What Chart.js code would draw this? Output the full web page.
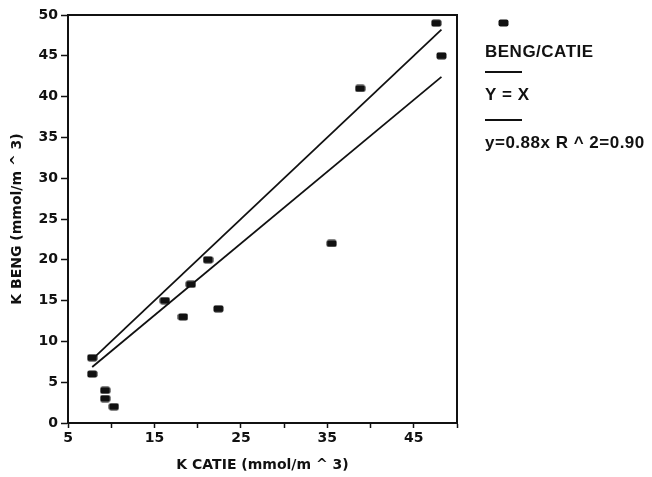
<!DOCTYPE html>
<html>
<head>
<meta charset="utf-8">
<script src="https://cdn.jsdelivr.net/npm/chart.js@4.4.0/dist/chart.umd.min.js"></script>
<style>
  html, body { margin: 0; padding: 0; background: #fff; }
  #wrap { width: 652px; height: 477px; position: relative; }
</style>
</head>
<body>
<div id="wrap"><canvas id="grafico"></canvas></div>
<script>
// Dados: K medido pelo CATIE (x) e pelo BENG (y)
const catieK = [7.8, 7.8, 9.3, 9.3, 10.3, 16.2, 18.3, 19.2, 21.2, 22.4, 35.5, 38.8, 47.6, 48.2];
const bengK = [8, 6, 4, 3, 2, 15, 13, 17, 20, 14, 22, 41, 49, 45];

const xTickLabels = [5, 15, 25, 35, 45];
const yTicks = [0, 5, 10, 15, 20, 25, 30, 35, 40, 45, 50];

// Retas: Y = X e ajuste y = 0.88x (intervalo dos dados)
const fitSlope = 0.88;
const lineX = [7.8, 48.2];

const seriesLabels = ["BENG/CATIE", "Y = X", "y=0.88x R ^ 2=0.90"];

const ink = "#111";

// marcador retangular arredondado
function criarMarcador() {
    const c = document.createElement("canvas");
    c.width = 11; c.height = 8;
    const g = c.getContext("2d");
    g.fillStyle = ink;
    g.beginPath();
    g.roundRect(0.5, 0.5, 10, 7, 2);
    g.fill();
    return c;
}
const marcador = criarMarcador();

// moldura em volta da área do gráfico
const moldura = {
    id: "moldura",
    afterDatasetsDraw(chart) {
        const a = chart.chartArea, ctx = chart.ctx;
        ctx.save();
        ctx.strokeStyle = ink;
        ctx.lineWidth = 2;
        ctx.strokeRect(a.left, a.top, a.right - a.left, a.bottom - a.top);
        ctx.restore();
    }
};

// legenda vertical à direita
const legenda = {
    id: "legenda",
    afterDraw(chart) {
        const ctx = chart.ctx;
        const x0 = 485;
        let y = 23;
        ctx.save();
        ctx.fillStyle = ink;
        ctx.strokeStyle = ink;
        ctx.font = "bold 17px 'Liberation Sans'";
        ctx.letterSpacing = "0.5px";
        ctx.textBaseline = "middle";
        chart.data.datasets.forEach((ds, i) => {
            if (i === 0) {
                ctx.drawImage(marcador, 498, y - 4);
            } else {
                ctx.lineWidth = 1.8;
                ctx.beginPath();
                ctx.moveTo(x0, y);
                ctx.lineTo(x0 + 37, y);
                ctx.stroke();
            }
            ctx.fillText(ds.label, x0, y + (i === 0 ? 29 : 23));
            y += i === 0 ? 49 : 48;
        });
        ctx.restore();
    }
};

const pontos = catieK.map((x, i) => ({ x: x, y: bengK[i] }));
const retaXY = lineX.map(x => ({ x: x, y: x }));
const retaAjuste = lineX.map(x => ({ x: x, y: fitSlope * x }));

const fonteTicks = { family: "'DejaVu Sans'", size: 14, weight: "bold" };
const fonteTitulo = { family: "'DejaVu Sans'", size: 14, weight: "bold" };

new Chart(document.getElementById("grafico"), {
    type: "scatter",
    data: {
        datasets: [
            {
                label: seriesLabels[0],
                data: pontos,
                pointStyle: marcador,
                pointRadius: 5,
                backgroundColor: ink,
                borderColor: ink
            },
            {
                label: seriesLabels[1],
                data: retaXY,
                showLine: true,
                pointRadius: 0,
                borderColor: ink,
                borderWidth: 1.8
            },
            {
                label: seriesLabels[2],
                data: retaAjuste,
                showLine: true,
                pointRadius: 0,
                borderColor: ink,
                borderWidth: 1.8
            }
        ]
    },
    options: {
        responsive: true,
        maintainAspectRatio: false,
        animation: false,
        layout: { padding: { top: 15, right: 195, left: 0, bottom: 0 } },
        plugins: {
            legend: { display: false },
            tooltip: { enabled: false }
        },
        scales: {
            x: {
                type: "linear",
                min: 5,
                max: 50,
                afterFit(scale) { scale.height = 54; },
                border: { color: ink, width: 2 },
                grid: { drawOnChartArea: false, tickLength: 5, tickColor: ink, tickWidth: 1.5 },
                ticks: {
                    stepSize: 5,
                    color: ink,
                    font: fonteTicks,
                    padding: 2,
                    maxRotation: 0,
                    autoSkip: false,
                    callback: v => xTickLabels.includes(v) ? String(v) : ""
                },
                title: {
                    display: true,
                    text: "K CATIE (mmol/m ^ 3)",
                    color: ink,
                    font: fonteTitulo,
                    padding: { top: 0, bottom: 3 }
                }
            },
            y: {
                type: "linear",
                min: 0,
                max: 50,
                afterFit(scale) { scale.width = 68; },
                border: { color: ink, width: 2 },
                grid: { drawOnChartArea: false, tickLength: 7, tickColor: ink, tickWidth: 1.5 },
                ticks: {
                    stepSize: 5,
                    color: ink,
                    font: fonteTicks,
                    padding: 3,
                    autoSkip: false,
                    callback: v => yTicks.includes(v) ? String(v) : ""
                },
                title: {
                    display: true,
                    text: "K BENG (mmol/m ^ 3)",
                    color: ink,
                    font: fonteTitulo,
                    padding: { top: 9, bottom: 0 }
                }
            }
        }
    },
    plugins: [moldura, legenda]
});
</script>
</body>
</html>
